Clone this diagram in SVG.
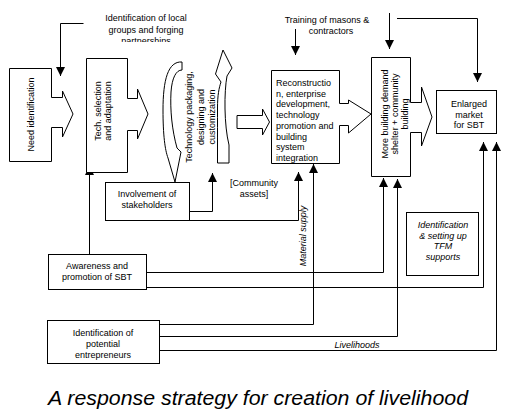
<svg xmlns="http://www.w3.org/2000/svg" width="519" height="417" viewBox="0 0 519 417">
<style>
.bx{fill:#fff;stroke:#000;stroke-width:1}
.ln{fill:none;stroke:#000;stroke-width:1}
text{font-family:"Liberation Sans",Arial,sans-serif;font-size:9px;fill:#000}
.c{text-anchor:middle}
.i{font-style:italic}
.cap{font-size:20px;font-style:italic}
</style>
<defs>
<marker id="ah" viewBox="0 0 10 10" refX="10" refY="5" markerWidth="9" markerHeight="9" markerUnits="userSpaceOnUse" orient="auto">
<path d="M0,0 L10,5 L0,10 z" fill="#000"/>
</marker>
<clipPath id="clipTop"><rect x="0" y="0" width="300" height="42"/></clipPath>
</defs>
<rect width="519" height="417" fill="#fff"/>

<g id="connectors">
<path class="ln" d="M83.5,23.5 H60.5 V76" marker-end="url(#ah)"/>
<path class="ln" d="M295.5,29 V55" marker-end="url(#ah)"/>
<path class="ln" d="M389.5,13 V49" marker-end="url(#ah)"/>
<path class="ln" d="M397,18.5 H477.5 V82" marker-end="url(#ah)"/>
<path class="ln" d="M89.5,254 V166" marker-end="url(#ah)"/>
<path class="ln" d="M189,211.5 H212.5 V173" marker-end="url(#ah)"/>
<path class="ln" d="M189,220.5 H298.5 V172" marker-end="url(#ah)"/>
<path class="ln" d="M159,324.5 H313.5 V164" marker-end="url(#ah)"/>
<path class="ln" d="M147,272.5 H383.5 V178" marker-end="url(#ah)"/>
<path class="ln" d="M159,336.5 H397.5 V179" marker-end="url(#ah)"/>
<path class="ln" d="M147,287.5 H483.5 V142" marker-end="url(#ah)"/>
<path class="ln" d="M159,350.5 H496.5 V142" marker-end="url(#ah)"/>
<text class="c i" transform="translate(306,236) rotate(-90)">Material supply</text>
<text class="c i" x="357" y="348">Livelihoods</text>
</g>

<g id="label-local-groups" clip-path="url(#clipTop)">
<text class="c" x="146" y="21">Identification of local</text>
<text class="c" x="146" y="32.5">groups and forging</text>
<text class="c" x="146" y="44">partnerships</text>
</g>

<g id="label-training">
<text class="c" x="327" y="23">Training of masons &amp;</text>
<text class="c" x="331" y="34">contractors</text>
</g>

<g id="need-identification">
<path class="bx" d="M9.5,68.5 H51.5 V97.5 H62.5 V91 L73,114 L62.5,137 V127.5 H51.5 V161.5 H9.5 Z"/>
<text class="c" transform="translate(34,114.5) rotate(-90)">Need identification</text>
</g>

<g id="tech-selection">
<path class="bx" d="M86.5,58.5 H127.5 V98.5 H137.5 V89 L148,114 L137.5,139 V130.5 H127.5 V172.5 H86.5 Z"/>
<text class="c" transform="translate(100.5,111) rotate(-90)">Tech. selection</text>
<text class="c" transform="translate(110.5,111) rotate(-90)">and adaptation</text>
</g>

<g id="technology-packaging">
<path class="bx" d="M182,62 C168,61 163,80 163,110 C163,135 165,150 168,158 L175,182 L181,152 L177,148 C172,130 170,110 171,92 C172,78 176,70 182,70 Z"/>
<path class="bx" d="M229,163 L217.5,163 L217.5,148 C217.5,135 217.5,120 217.5,108 C217.5,95 219,88 221,82 L215.5,74 L223,50 L232,68 L227,76 C224,92 224,125 229,145 Z"/>
<path class="bx" d="M237,115.5 H262.5 V109 L269.5,122 L262.5,135 V128.5 H237 Z"/>
<text class="c" transform="translate(192,117) rotate(-90)">Technology packaging,</text>
<text class="c" transform="translate(203.5,117) rotate(-90)">designing and</text>
<text class="c" transform="translate(215,117) rotate(-90)">customization</text>
</g>

<g id="reconstruction">
<path class="bx" d="M271.5,70.5 H339.5 V103.5 H348.5 V100 L371,114 L348.5,133 V125.5 H339.5 V163.5 H271.5 Z"/>
<text x="276" y="86">Reconstructio</text>
<text x="276" y="96.7">n, enterprise</text>
<text x="276" y="107.4">development,</text>
<text x="276" y="118.1">technology</text>
<text x="276" y="128.8">promotion and</text>
<text x="276" y="139.5">building</text>
<text x="276" y="150.2">system</text>
<text x="276" y="160.9">integration</text>
</g>

<g id="more-building-demand">
<path class="bx" d="M371.5,57.5 H410.5 V102.5 H421.5 V87 L432,117 L421.5,146 V132.5 H410.5 V176.5 H371.5 Z"/>
<text class="c" transform="translate(388,114) rotate(-90)">More building demand</text>
<text class="c" transform="translate(398,114) rotate(-90)">shelter + community</text>
<text class="c" transform="translate(408,114) rotate(-90)">building</text>
</g>

<g id="enlarged-market">
<rect class="bx" x="436.5" y="90.5" width="60" height="43"/>
<text class="c" x="469" y="107">Enlarged</text>
<text class="c" x="469" y="117.5">market</text>
<text class="c" x="469" y="128">for SBT</text>
</g>

<g id="involvement-stakeholders">
<rect class="bx" x="105.5" y="182.5" width="84" height="38"/>
<text class="c" x="147" y="197">Involvement of</text>
<text class="c" x="147" y="208">stakeholders</text>
</g>

<g id="community-assets">
<text class="c" x="254" y="186">[Community</text>
<text class="c" x="254" y="197">assets]</text>
</g>

<g id="awareness-promotion">
<rect class="bx" x="48.5" y="254.5" width="98" height="35"/>
<text class="c" x="97" y="269">Awareness and</text>
<text class="c" x="97" y="280">promotion of SBT</text>
</g>

<g id="potential-entrepreneurs">
<rect class="bx" x="47.5" y="320.5" width="112" height="43"/>
<text class="c" x="103" y="336">Identification of</text>
<text class="c" x="103" y="347">potential</text>
<text class="c" x="103" y="358">entrepreneurs</text>
</g>

<g id="tfm-supports">
<rect class="bx" x="406.5" y="212.5" width="72" height="63"/>
<text class="c i" x="443" y="228">Identification</text>
<text class="c i" x="443" y="238.5">&amp; setting up</text>
<text class="c i" x="443" y="249">TFM</text>
<text class="c i" x="443" y="259.5">supports</text>
</g>

<text class="cap" x="48" y="405" textLength="420" lengthAdjust="spacingAndGlyphs">A response strategy for creation of livelihood</text>
</svg>
